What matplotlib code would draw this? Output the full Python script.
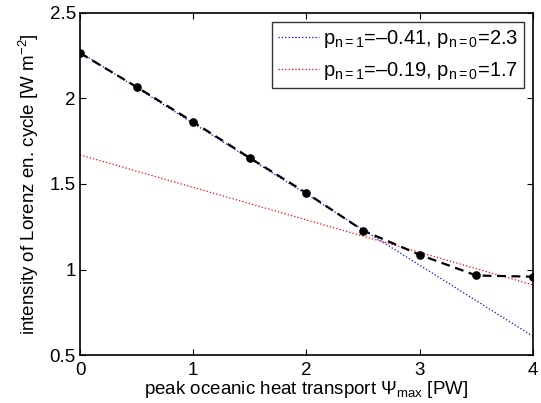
import numpy as np
import matplotlib
matplotlib.use('Agg')
import matplotlib.pyplot as plt

plt.rcParams['font.family'] = ['Liberation Sans', 'DejaVu Sans']
plt.rcParams['mathtext.fontset'] = 'custom'
plt.rcParams['mathtext.rm'] = 'Liberation Sans'
plt.rcParams['mathtext.it'] = 'Liberation Sans'

# peak oceanic heat transport [PW] and Lorenz cycle intensity [W m-2]
psi_max = [0, 0.5, 1.0, 1.5, 2.0, 2.5, 3.0, 3.5, 4.0]
intensity = [2.265, 2.067, 1.862, 1.652, 1.447, 1.228, 1.086, 0.965, 0.958]

# linear fits: slope, intercept
fit_blue = (-0.415, 2.27)
fit_red = (-0.19, 1.67)
fit_x = [0, 4]

fig = plt.figure(figsize=(5.41, 4.03), dpi=100)
ax = fig.add_axes([0.148, 0.119, 0.837, 0.849])

xs = np.array(fit_x, dtype=float)
ax.plot(xs, fit_blue[0] * xs + fit_blue[1], color='blue', ls=(0, (1, 1.7)), lw=0.9,
        label=r'p$_{n=1}$=–0.41, p$_{n=0}$=2.3')
ax.plot(xs, fit_red[0] * xs + fit_red[1], color='red', ls=(0, (1, 1.7)), lw=0.9,
        label=r'p$_{n=1}$=–0.19, p$_{n=0}$=1.7')
ax.plot(psi_max, intensity, color='black', ls=(0, (4, 2.5)), lw=1.6,
        marker='o', ms=5.2, zorder=3)

ax.set_xlim(0, 4)
ax.set_ylim(0.5, 2.5)
ax.set_xticks([0, 1, 2, 3, 4])
ax.set_yticks([0.5, 1, 1.5, 2, 2.5])
ax.set_yticklabels(['0.5', '1', '1.5', '2', '2.5'])
ax.tick_params(direction='in', top=True, right=True, labelsize=13.5, length=4, width=0.8)
ax.tick_params(axis='x', pad=5)
ax.tick_params(axis='y', pad=3)
for s in ax.spines.values():
    s.set_linewidth(1.2)

ax.set_xlabel(r'peak oceanic heat transport $\Psi_{\rm max}$ [PW]', fontsize=13.5, labelpad=0)
ax.set_ylabel(r'intensity of Lorenz en. cycle [W m$^{-2}$]', fontsize=13.5, labelpad=6)

leg = ax.legend(loc='upper right', fontsize=14.5, frameon=True, fancybox=False,
                handlelength=2.0, handletextpad=0.2, borderaxespad=0.45,
                borderpad=0.3, labelspacing=0.5)
leg.get_frame().set_edgecolor('black')
leg.get_frame().set_linewidth(1.0)

fig.savefig('out.png', dpi=100)
